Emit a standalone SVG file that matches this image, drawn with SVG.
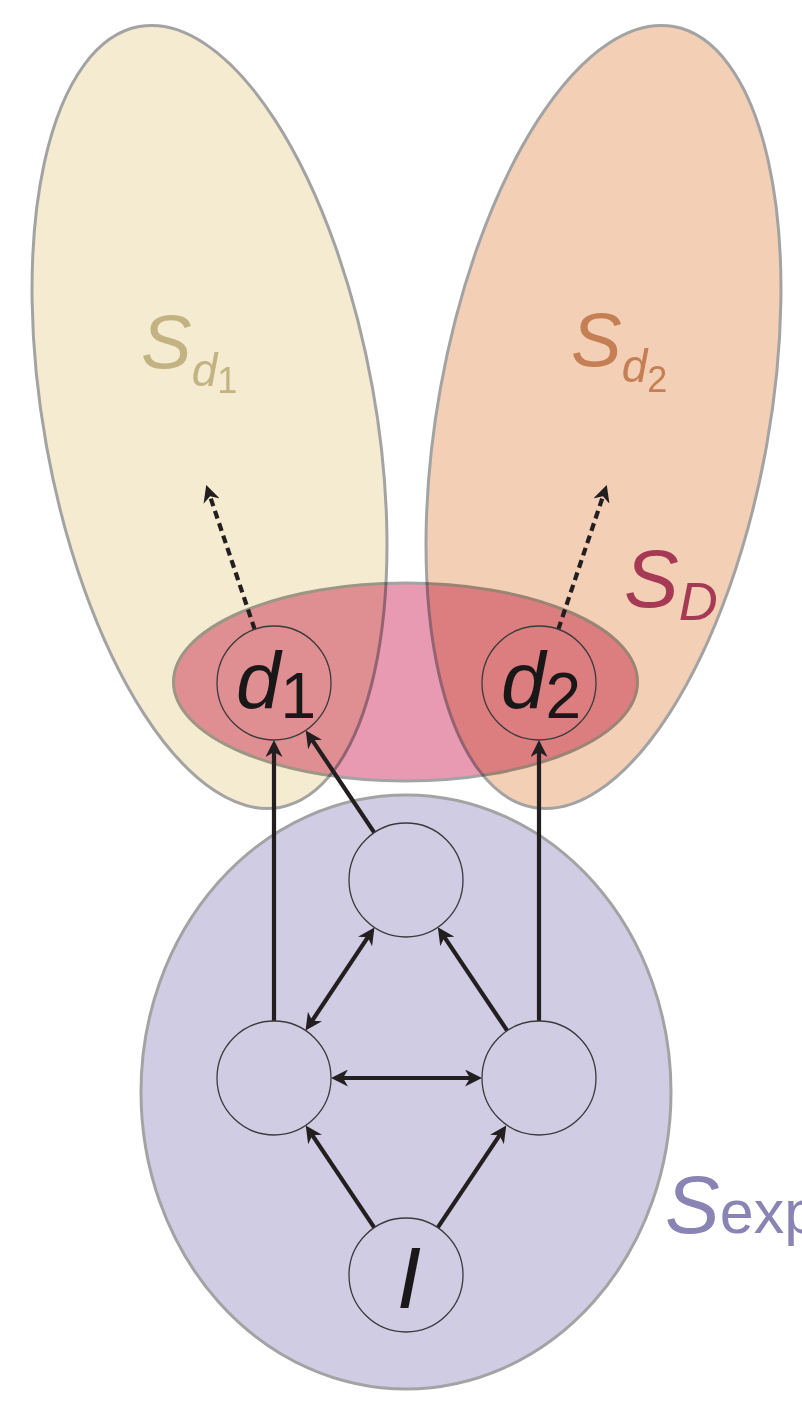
<svg xmlns="http://www.w3.org/2000/svg" width="802" height="1411" viewBox="0 0 802 1411">
<style>
.set{stroke:#a3a3a3;stroke-width:3}
.node{fill:none;stroke:#3a3a3a;stroke-width:1.3}
.edge{fill:none;stroke:#231f20;stroke-width:4.2}
.dash{fill:none;stroke:#231f20;stroke-width:4.2;stroke-dasharray:8 5}
.lbl{font-family:"Liberation Sans",Arial,sans-serif}
.nl{font-family:"Liberation Sans",Arial,sans-serif;fill:#1a1718}
</style>
<defs>
<marker id="ah" markerUnits="userSpaceOnUse" viewBox="0 0 17 17" markerWidth="17" markerHeight="17" refX="7" refY="8.5" orient="auto-start-reverse">
<path d="M17,8.5 L0,0 L5,8.5 L0,17 Z" fill="#231f20"/>
</marker>
</defs>
<rect width="802" height="1411" fill="#ffffff"/>
<g id="set-Sd1"><ellipse class="set" cx="209.5" cy="417" rx="165.6" ry="396.7" fill="#f5ebd0" transform="rotate(-10.2 209.5 417)"/></g>
<g id="set-Sd2"><ellipse class="set" cx="603.5" cy="417" rx="165.6" ry="396.7" fill="#f2cfb5" transform="rotate(10.2 603.5 417)"/></g>
<g id="set-SD" style="mix-blend-mode:multiply"><ellipse class="set" cx="405.5" cy="682" rx="232" ry="99" fill="#e89ab3" stroke="#a09a90"/></g>
<g id="set-Sexp"><ellipse class="set" cx="406" cy="1092" rx="265" ry="297" fill="#d0cce4"/></g>
<g id="connectors">
<line class="edge" x1="274" y1="1021" x2="274" y2="750" marker-end="url(#ah)"/>
<line class="edge" x1="539" y1="1021" x2="539" y2="750" marker-end="url(#ah)"/>
<line class="edge" x1="374.3" y1="832.6" x2="311.3" y2="738.7" marker-end="url(#ah)"/>
<line class="edge" x1="368.9" y1="935.7" x2="311.1" y2="1022.3" marker-start="url(#ah)" marker-end="url(#ah)"/>
<line class="edge" x1="507.2" y1="1030.7" x2="443.4" y2="935.6" marker-end="url(#ah)"/>
<line class="edge" x1="341" y1="1078" x2="472" y2="1078" marker-start="url(#ah)" marker-end="url(#ah)"/>
<line class="edge" x1="374.3" y1="1227.6" x2="311.3" y2="1133.7" marker-end="url(#ah)"/>
<line class="edge" x1="437.7" y1="1227.6" x2="500.7" y2="1133.7" marker-end="url(#ah)"/>
<line class="dash" x1="254.7" y1="629.4" x2="209.4" y2="494.4" marker-end="url(#ah)"/>
<line class="dash" x1="558.3" y1="629.4" x2="603.6" y2="494.4" marker-end="url(#ah)"/>
</g>
<g id="node-d1"><circle class="node" cx="274" cy="683" r="57"/><text class="nl" x="236" y="708" font-size="80"><tspan font-style="italic">d</tspan><tspan font-size="64" dy="10">1</tspan></text></g>
<g id="node-d2"><circle class="node" cx="539" cy="683" r="57"/><text class="nl" x="501" y="708" font-size="80"><tspan font-style="italic">d</tspan><tspan font-size="64" dy="10">2</tspan></text></g>
<g id="node-top"><circle class="node" cx="406" cy="880" r="57"/></g>
<g id="node-left"><circle class="node" cx="274" cy="1078" r="57"/></g>
<g id="node-right"><circle class="node" cx="539" cy="1078" r="57"/></g>
<g id="node-I"><circle class="node" cx="406" cy="1275" r="57"/><text class="nl" x="409" y="1308" font-size="88" font-style="italic" text-anchor="middle">I</text></g>
<g id="labels">
<text class="lbl" x="141" y="368" font-size="76" fill="#c3b383"><tspan font-style="italic">S</tspan><tspan font-size="46" font-style="italic" dy="18">d</tspan><tspan font-size="36" dy="7">1</tspan></text>
<text class="lbl" x="571" y="366" font-size="76" fill="#c47f54"><tspan font-style="italic">S</tspan><tspan font-size="46" font-style="italic" dy="16">d</tspan><tspan font-size="36" dy="10">2</tspan></text>
<text class="lbl" x="624" y="607" font-size="82" fill="#a63a55"><tspan font-style="italic">S</tspan><tspan font-size="54" font-style="italic" dy="13">D</tspan></text>
<text class="lbl" x="665" y="1233" font-size="82" fill="#8a84b5"><tspan font-style="italic">S</tspan><tspan font-size="61">exp</tspan></text>
</g>
</svg>
